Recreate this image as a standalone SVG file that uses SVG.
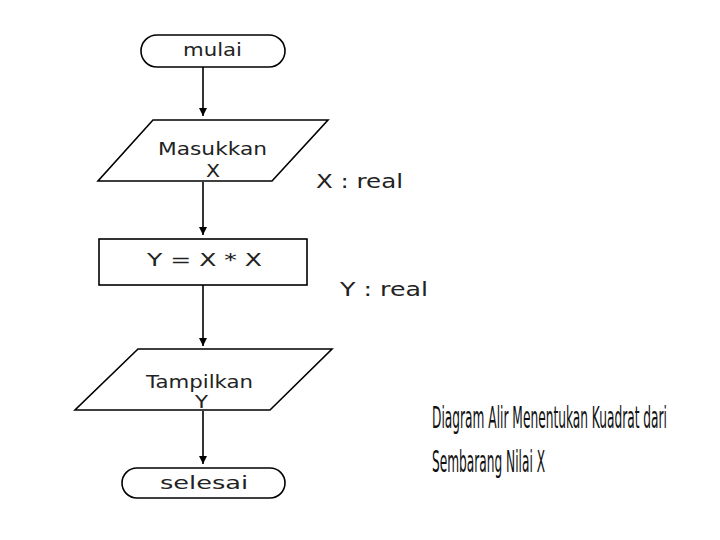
<svg xmlns="http://www.w3.org/2000/svg" width="720" height="540" viewBox="0 0 720 540">
<style>
.s{fill:#fff;stroke:#000;stroke-width:1.6}
.t{font-family:"DejaVu Sans",Verdana,sans-serif;font-size:18px;fill:#222;text-anchor:start}
.c{font-family:"DejaVu Sans",sans-serif;font-stretch:condensed;font-size:31px;fill:#111}
.e{stroke:#000;stroke-width:1.6;fill:none}
</style>
<defs>
<marker id="ah" markerWidth="10" markerHeight="10" refX="9" refY="5" orient="auto" markerUnits="userSpaceOnUse">
<path d="M1,1 L9,5 L1,9 Z" fill="#000"/>
</marker>
</defs>
<rect width="720" height="540" fill="#fff"/>
<g id="connectors">
<line class="e" x1="203" y1="67" x2="203" y2="116" marker-end="url(#ah)"/>
<line class="e" x1="203" y1="182" x2="203" y2="235" marker-end="url(#ah)"/>
<line class="e" x1="203" y1="285" x2="203" y2="346" marker-end="url(#ah)"/>
<line class="e" x1="203" y1="411" x2="203" y2="464" marker-end="url(#ah)"/>
</g>
<g id="mulai">
<rect class="s" x="141" y="35" width="144" height="32" rx="16" ry="16"/>
<text class="t" x="183" y="56" textLength="59" lengthAdjust="spacingAndGlyphs">mulai</text>
</g>
<g id="masukkan">
<polygon class="s" points="153,120 328,120 272,181 98,181"/>
<text class="t" x="158" y="155" textLength="109" lengthAdjust="spacingAndGlyphs">Masukkan</text>
<text class="t" x="206" y="177" textLength="14" lengthAdjust="spacingAndGlyphs">X</text>
</g>
<g id="xreal">
<text class="t" x="316" y="188" textLength="87" lengthAdjust="spacingAndGlyphs" style="font-size:19px">X : real</text>
</g>
<g id="proses">
<rect class="s" x="99" y="239" width="208" height="46"/>
<text class="t" x="147" y="266" textLength="115" lengthAdjust="spacingAndGlyphs">Y = X * X</text>
</g>
<g id="yreal">
<text class="t" x="340" y="296" textLength="88" lengthAdjust="spacingAndGlyphs" style="font-size:19px">Y : real</text>
</g>
<g id="tampilkan">
<polygon class="s" points="138,349 332,349 270,410 75,410"/>
<text class="t" x="146" y="388" textLength="107" lengthAdjust="spacingAndGlyphs">Tampilkan</text>
<text class="t" x="195" y="408" textLength="13" lengthAdjust="spacingAndGlyphs">Y</text>
</g>
<g id="selesai">
<rect class="s" x="122" y="468" width="163" height="30" rx="15" ry="15"/>
<text class="t" x="160" y="489" textLength="88" lengthAdjust="spacingAndGlyphs">selesai</text>
</g>
<g id="caption">
<text class="c" x="0" y="0" transform="translate(432,428) scale(0.5,1)" textLength="470" lengthAdjust="spacingAndGlyphs">Diagram Alir Menentukan Kuadrat dari</text>
<text class="c" x="0" y="0" transform="translate(432,472) scale(0.5,1)" textLength="226" lengthAdjust="spacingAndGlyphs">Sembarang Nilai X</text>
</g>
</svg>
